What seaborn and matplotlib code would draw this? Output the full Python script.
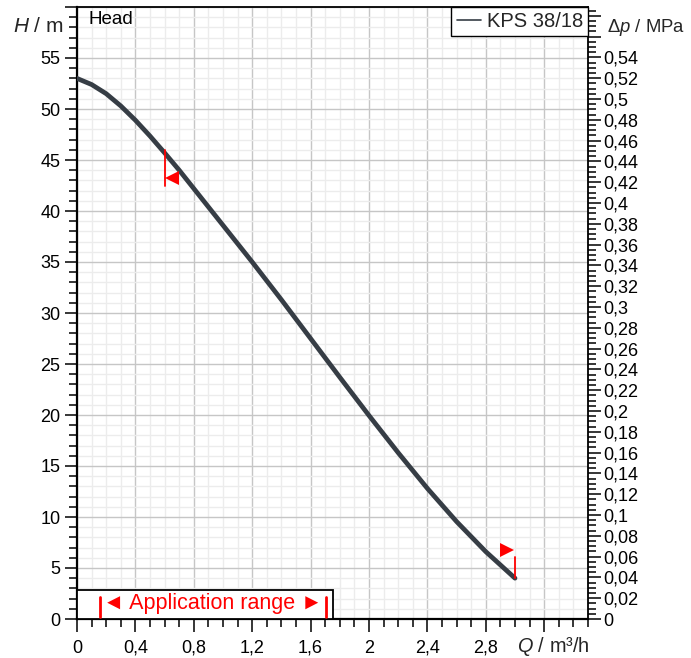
import numpy as np
import pandas as pd
import matplotlib
matplotlib.use('Agg')
import matplotlib.pyplot as plt
import seaborn as sns
from matplotlib.ticker import MultipleLocator, FuncFormatter
from matplotlib.patches import Rectangle

# ---- data ----
flow_q = [0.0, 0.1, 0.2, 0.3, 0.4, 0.5, 0.6, 0.7, 0.8, 0.9, 1.0, 1.2, 1.4, 1.6,
          1.8, 2.0, 2.2, 2.4, 2.6, 2.8, 3.0]
head_h = [53.0, 52.4, 51.5, 50.3, 48.9, 47.35, 45.7, 44.0, 42.2, 40.4, 38.6, 35.0,
          31.3, 27.5, 23.7, 19.95, 16.3, 12.8, 9.55, 6.6, 4.0]
series_name = "KPS 38/18"
app_range_q = [0.16, 1.705]         # application range limits (red bars)
app_box_q = 1.75                    # width of the application range box
marker_left = (0.648, 43.2)         # left limit triangle
marker_right = (2.946, 6.8)         # right limit triangle
marker_left_bar = (0.6, 42.45, 46.0)
marker_right_bar = (3.0, 4.0, 6.1)

W, H = 691, 658
DPI = 100
M_PER_MPA = 101.97

sns.set_theme(style='white')
plt.rcParams['font.family'] = ['Liberation Sans', 'DejaVu Sans']
plt.rcParams['mathtext.fontset'] = 'custom'
plt.rcParams['mathtext.rm'] = 'Liberation Sans'
plt.rcParams['mathtext.it'] = 'Liberation Sans:italic'

FS = 13
fig = plt.figure(figsize=(W / DPI, H / DPI), dpi=DPI)
ax = fig.add_axes([77 / W, 1 - 619 / H, (588 - 77) / W, (619 - 7) / H])

df = pd.DataFrame({'Q': flow_q, 'H': head_h, 'series': series_name})
sns.lineplot(data=df, x='Q', y='H', hue='series', palette=['#363d45'],
             linewidth=3.4, ax=ax, zorder=5, legend=True)

ax.set_xlim(0, 3.5)
ax.set_ylim(0, 60)
ax.set_xlabel('')
ax.set_ylabel('')

ax.xaxis.set_major_locator(MultipleLocator(0.4))
ax.xaxis.set_minor_locator(MultipleLocator(0.1))
ax.yaxis.set_major_locator(MultipleLocator(5))
ax.yaxis.set_minor_locator(MultipleLocator(1))


def fmt_x(v, pos):
    if v > 3.1:
        return ''
    return f"{round(v, 2):g}".replace('.', ',')


def fmt_y(v, pos):
    if v > 57:
        return ''
    return f"{round(v, 2):g}"


ax.xaxis.set_major_formatter(FuncFormatter(fmt_x))
ax.yaxis.set_major_formatter(FuncFormatter(fmt_y))

ax.grid(which='major', color='#c6c6c6', linewidth=1.0, zorder=0)
ax.grid(which='minor', color='#ececec', linewidth=1.0, zorder=0)
ax.set_axisbelow(True)

for s in ax.spines.values():
    s.set_color('black')
    s.set_linewidth(1.3)
ax.spines['left'].set_linewidth(1.6)
ax.spines['bottom'].set_linewidth(1.6)

ax.tick_params(which='major', direction='out', length=9, width=1.1, color='black',
               labelsize=FS, labelcolor='black')
ax.tick_params(which='minor', direction='out', length=5.5, width=1.1, color='black')
ax.tick_params(axis='y', which='major', pad=3)
ax.tick_params(axis='x', which='major', pad=6)
ax.tick_params(axis='x', which='both', bottom=True)
ax.tick_params(axis='y', which='both', left=True)

# right axis in MPa
ax2 = ax.twinx()
ax2.set_ylim(0, 60 / M_PER_MPA)
ax2.yaxis.set_major_locator(MultipleLocator(0.02))
ax2.yaxis.set_minor_locator(MultipleLocator(0.005))


def fmt_p(v, pos):
    if v > 0.545:
        return ''
    return f"{round(v, 3):g}".replace('.', ',')


ax2.yaxis.set_major_formatter(FuncFormatter(fmt_p))
ax2.tick_params(which='major', direction='out', length=9, width=1.1, color='black',
                labelsize=FS, labelcolor='black', pad=2)
ax2.tick_params(which='minor', direction='out', length=5.5, width=1.1, color='black')
ax2.grid(False)
for s in ax2.spines.values():
    s.set_visible(False)

# legend
leg = ax.legend(loc='upper right', bbox_to_anchor=(1.0, 1.0), borderaxespad=0,
                fontsize=14.5, frameon=True, fancybox=False, edgecolor='black',
                framealpha=1, handlelength=1.2, handletextpad=0.3,
                borderpad=0.25, title=None)
leg.get_frame().set_linewidth(1.0)
for ln in leg.get_lines():
    ln.set_linewidth(1.2)
leg.set_zorder(20)

# limit markers
ax.plot([marker_left_bar[0]] * 2, marker_left_bar[1:], color='red', lw=1.3, zorder=6)
ax.plot([marker_left[0]], [marker_left[1]], marker='<', color='red', ms=10.5,
        mew=0, zorder=7)
ax.plot([marker_right_bar[0]] * 2, marker_right_bar[1:], color='red', lw=1.3, zorder=6)
ax.plot([marker_right[0]], [marker_right[1]], marker='>', color='red', ms=10.5,
        mew=0, zorder=7)

# application range box
ax.add_patch(Rectangle((0, 0), app_box_q, 2.8, facecolor='white', edgecolor='black',
                       linewidth=1.3, zorder=8, clip_on=False))
for q in app_range_q:
    ax.plot([q, q], [0.2, 2.2], color='red', lw=2.0, zorder=9)
ax.text(sum(app_range_q) / 2, 1.55, '◄ Application range ►', color='red',
        fontsize=15.5, ha='center', va='center', zorder=10,
        family=['Liberation Sans', 'DejaVu Sans'])

# texts
ax.text((88 - 77) / (588 - 77), 1 - (20 - 7) / (619 - 7), 'Head',
        transform=ax.transAxes, fontsize=13.5, ha='left', va='center', color='black')
fig.text(38 / W, 1 - 27 / H, '$H$ / m', fontsize=15, ha='center', va='center')
fig.text(646 / W, 1 - 28 / H, 'Δ$p$ / MPa', fontsize=13.3, ha='center', va='center')
fig.text(553 / W, 1 - 647 / H, '$Q$ / m³/h', fontsize=14.3, ha='center', va='center')

fig.savefig('out.png', dpi=DPI)
